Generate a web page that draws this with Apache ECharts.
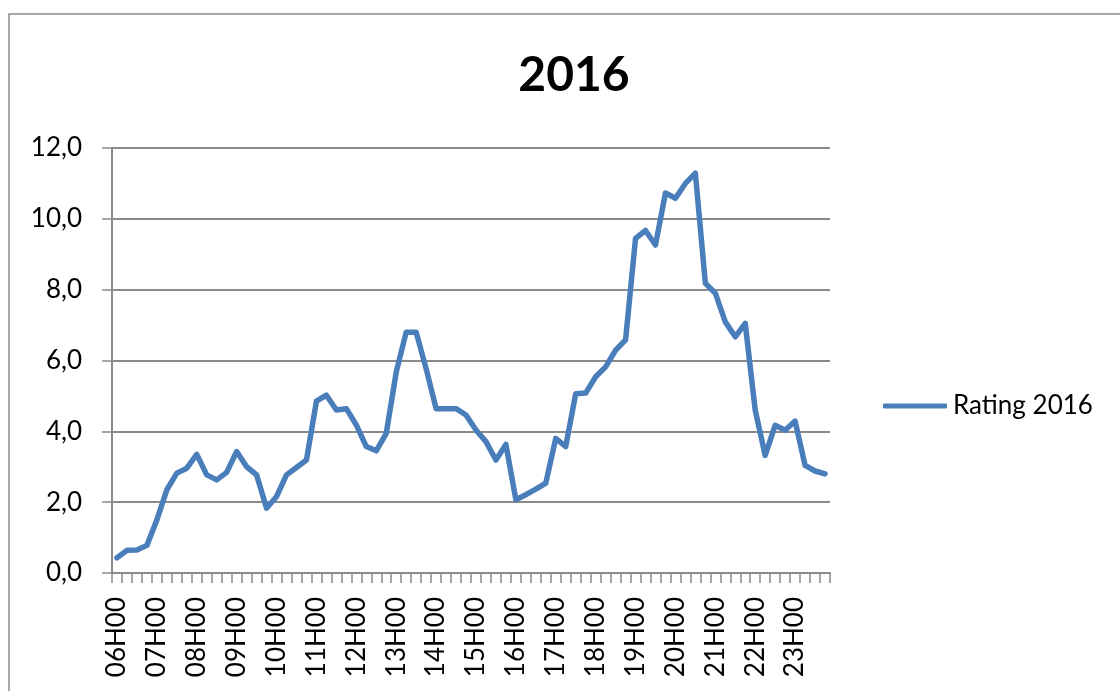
<!DOCTYPE html>
<html>
<head>
<meta charset="utf-8">
<script src="https://cdn.jsdelivr.net/npm/echarts@6/dist/echarts.min.js"></script>
<style>
html,body{margin:0;padding:0;background:#fff;}
#chart{width:1120px;height:691px;}
</style>
</head>
<body>
<div id="chart"></div>
<script>
const titleText = "2016";
const seriesName = "Rating 2016";
const hours = ["06","07","08","09","10","11","12","13","14","15","16","17","18","19","20","21","22","23"];
const quarters = ["00","15","30","45"];
const categories = [];
hours.forEach(h => quarters.forEach(q => categories.push(h + "H" + q)));
const ratings = [
  0.43, 0.64, 0.65, 0.78, 1.50, 2.35, 2.82, 2.96,
  3.35, 2.77, 2.63, 2.84, 3.43, 3.00, 2.77, 1.83,
  2.16, 2.77, 2.98, 3.19, 4.85, 5.02, 4.60, 4.64,
  4.18, 3.57, 3.45, 3.94, 5.67, 6.80, 6.80, 5.77,
  4.64, 4.64, 4.64, 4.46, 4.04, 3.71, 3.19, 3.63,
  2.07, 2.21, 2.37, 2.54, 3.80, 3.57, 5.06, 5.08,
  5.54, 5.82, 6.29, 6.58, 9.45, 9.67, 9.26, 10.73,
  10.58, 11.00, 11.29, 8.18, 7.90, 7.09, 6.67, 7.05,
  4.60, 3.32, 4.17, 4.03, 4.29, 3.04, 2.88, 2.80
];
const yTicks = [0, 2, 4, 6, 8, 10, 12];

const FONT = "Lato";
const gridColor = "#8a8a8a";
const lineColor = "#4a7ebb";

const chart = echarts.init(document.getElementById("chart"), null, {renderer: "canvas"});
chart.setOption({
  animation: false,
  backgroundColor: "#ffffff",
  textStyle: {fontFamily: FONT},
  graphic: [{
    type: "rect",
    shape: {x: 9, y: 14, width: 1300, height: 900},
    style: {fill: "none", stroke: "#8c8c8c", lineWidth: 1.5},
    silent: true
  }],
  title: {
    text: titleText,
    left: 569,
    top: 47,
    textAlign: "center",
    textStyle: {fontFamily: FONT, fontSize: 48, fontWeight: "bold", color: "#000"}
  },
  legend: {
    left: 878,
    top: 388,
    orient: "vertical",
    icon: "roundRect",
    itemWidth: 64,
    itemHeight: 5,
    itemGap: 6,
    data: [seriesName],
    textStyle: {fontFamily: FONT, fontSize: 26, color: "#000", padding: [0, 0, 0, 1]}
  },
  grid: {left: 112, right: 290, top: 148, bottom: 118, containLabel: false},
  xAxis: {
    type: "category",
    data: categories,
    boundaryGap: true,
    axisLine: {lineStyle: {color: gridColor, width: 2}},
    axisTick: {show: true, interval: 0, length: 10, lineStyle: {color: gridColor, width: 1.5}},
    axisLabel: {
      interval: 3,
      rotate: 90,
      margin: 24,
      fontFamily: FONT,
      fontSize: 26,
      color: "#000"
    },
    splitLine: {show: false}
  },
  yAxis: {
    type: "value",
    min: yTicks[0],
    max: yTicks[yTicks.length - 1],
    interval: 2,
    axisLine: {show: true, lineStyle: {color: gridColor, width: 2}},
    axisTick: {show: true, length: 10, lineStyle: {color: gridColor, width: 1.5}},
    axisLabel: {
      margin: 30,
      fontFamily: FONT,
      fontSize: 26,
      color: "#000",
      formatter: v => v.toFixed(1).replace(".", ",")
    },
    splitLine: {show: true, lineStyle: {color: gridColor, width: 2}}
  },
  series: [{
    name: seriesName,
    type: "line",
    data: ratings,
    showSymbol: false,
    symbol: "none",
    smooth: false,
    itemStyle: {color: lineColor},
    lineStyle: {color: lineColor, width: 5.5, cap: "round", join: "round"}
  }]
});
</script>
</body>
</html>
